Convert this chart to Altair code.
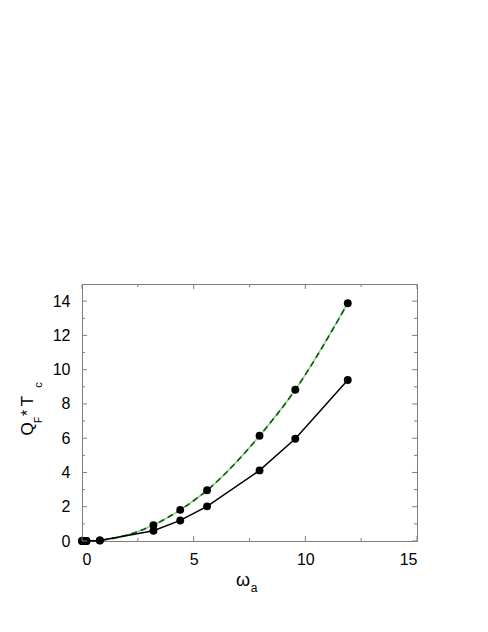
import altair as alt
import pandas as pd

# data
omega = [0.0, 0.1, 0.2, 0.8, 3.2, 4.4, 5.6, 7.95, 9.55, 11.9]
q_black = [0.0, 0.0, 0.0, 0.03, 0.6, 1.2, 2.02, 4.12, 5.97, 9.4]
q_green = [0.0, 0.0, 0.0, 0.04, 0.93, 1.82, 2.96, 6.14, 8.83, 13.88]

x_major = [0, 5, 10, 15]
x_minor = [2.5, 7.5, 12.5]
y_major = [0, 2, 4, 6, 8, 10, 12, 14]
y_minor = [1, 3, 5, 7, 9, 11, 13]

W, H = 335, 257
FONT = "Liberation Sans"

df = pd.DataFrame({"x": omega, "black": q_black, "green": q_green})

xs = alt.Scale(domain=[0, 15], nice=False, zero=False)
ys = alt.Scale(domain=[0, 15], nice=False, zero=False)

xax = alt.Axis(values=x_major, format="d", domain=False, ticks=False, grid=False,
               labelFont=FONT, labelFontSize=16, labelColor="black", labelPadding=10, title=None)
yax = alt.Axis(values=y_major, format="d", domain=False, ticks=False, grid=False,
               labelFont=FONT, labelFontSize=16, labelColor="black", labelPadding=12, title=None)


def X(f):
    return alt.X(f, scale=xs, axis=xax)


def Y(f):
    return alt.Y(f, scale=ys, axis=yax)


base = alt.Chart(df)

green_light = base.mark_line(color="#7fdf7f", strokeWidth=1.6, interpolate="monotone").encode(
    x=X("x:Q"), y=Y("green:Q"))
green_dash = base.mark_line(color="#145214", strokeWidth=1.6, strokeDash=[6, 4], interpolate="monotone").encode(
    x=X("x:Q"), y=Y("green:Q"))
green_pts = base.mark_circle(color="black", size=62, opacity=1).encode(
    x=X("x:Q"), y=Y("green:Q"))
black_line = base.mark_line(color="black", strokeWidth=1.5).encode(
    x=X("x:Q"), y=Y("black:Q"))
black_pts = base.mark_circle(color="black", size=62, opacity=1).encode(
    x=X("x:Q"), y=Y("black:Q"))

tick_color = "#7f7f7f"


def xticks(vals, length):
    d = alt.Chart(pd.DataFrame({"t": vals}))
    bot = d.mark_rule(color=tick_color, strokeWidth=1).encode(
        x=X("t:Q"), y=alt.value(H), y2=alt.value(H - length))
    top = d.mark_rule(color=tick_color, strokeWidth=1).encode(
        x=X("t:Q"), y=alt.value(0), y2=alt.value(length))
    return [bot, top]


def yticks(vals, length):
    d = alt.Chart(pd.DataFrame({"t": vals}))
    lft = d.mark_rule(color=tick_color, strokeWidth=1).encode(
        y=Y("t:Q"), x=alt.value(0), x2=alt.value(length))
    rgt = d.mark_rule(color=tick_color, strokeWidth=1).encode(
        y=Y("t:Q"), x=alt.value(W), x2=alt.value(W - length))
    return [lft, rgt]


one = alt.Chart(pd.DataFrame({"a": [0]}))


def txt(s, x, y, size, angle=0, align="center", baseline="alphabetic"):
    return one.mark_text(text=s, font=FONT, fontSize=size, color="black", angle=angle,
                         align=align, baseline=baseline).encode(x=alt.value(x), y=alt.value(y))


titles = [
    txt("ω", 161, 302, 18),
    txt("a", 172, 308, 12),
    txt("Q", -49, 145, 17, angle=270),
    txt("F", -40, 136, 10, angle=270),
    txt("*", -49, 129, 16, angle=270),
    txt("T", -49, 117, 17, angle=270),
    txt("c", -40, 101, 11, angle=270),
]

layers = ([green_light, green_dash, black_line, green_pts, black_pts]
          + xticks(x_major, 5) + xticks(x_minor, 3) + yticks(y_major, 5) + yticks(y_minor, 3)
          + titles)

chart = alt.layer(*layers).properties(
    width=W, height=H,
    autosize=alt.AutoSizeParams(type="none"),
    padding={"left": 74, "top": 276, "right": 60, "bottom": 80},
).configure_view(stroke=tick_color, strokeWidth=1)

chart.save("out.html", embed_options={"renderer": "svg", "actions": False})
